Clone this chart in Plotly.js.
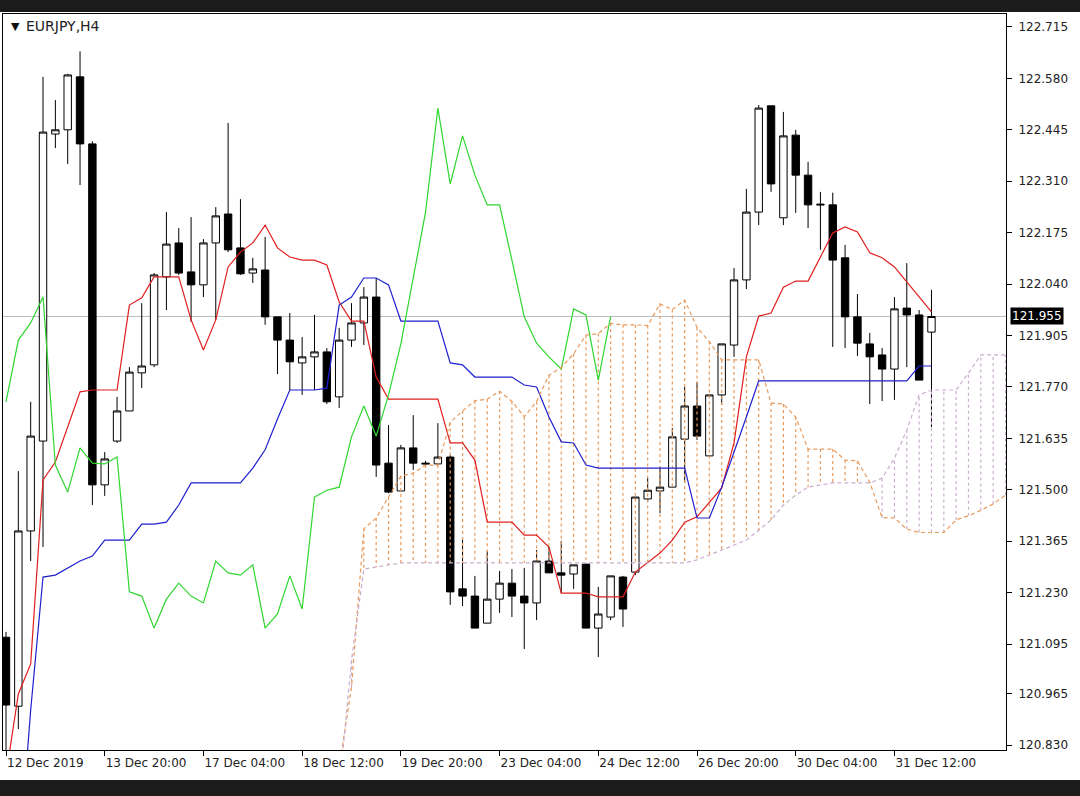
<!DOCTYPE html>
<html><head><meta charset="utf-8">
<script src="https://cdn.plot.ly/plotly-3.0.1.min.js"></script>
<style>
html,body{margin:0;padding:0;background:#1b1b1b;width:1080px;height:796px;overflow:hidden;}
#chart{position:absolute;left:0;top:12px;width:1080px;height:768px;}
</style></head><body><div id="chart"></div>
<script>
// ---- Candles (EURJPY H4), bar index 0 = 12 Dec 2019 12:00 ----
const opens = [121.113,120.932,121.392,121.628,122.434,122.445,122.584,122.408,121.513,121.628,
121.707,121.807,121.828,122.059,122.148,122.072,122.038,122.148,122.224,122.135,
122.069,122.077,121.954,121.893,121.833,121.849,121.862,121.744,121.893,121.938,
122.006,121.570,121.497,121.610,121.570,121.568,121.586,121.240,121.221,121.150,
121.213,121.255,121.221,121.203,121.313,121.282,121.279,121.305,121.137,121.166,
121.271,121.284,121.476,121.497,121.507,121.633,121.720,121.589,121.749,121.880,
122.051,122.229,122.508,122.214,122.431,122.326,122.250,122.248,122.109,121.954,
121.883,121.854,121.817,121.977,121.959,121.914];
const highs = [121.127,121.549,121.731,122.584,122.523,122.592,122.651,122.415,121.599,121.744,
121.822,121.990,122.069,122.229,122.187,122.216,122.158,122.242,122.463,122.263,
122.109,122.164,121.954,121.964,121.901,121.959,121.872,121.925,121.990,122.032,
122.056,121.670,121.618,121.696,121.576,121.675,121.591,121.376,121.274,121.339,
121.287,121.292,121.295,121.342,121.350,121.366,121.303,121.305,121.245,121.274,
121.274,121.481,121.531,121.560,121.662,121.770,121.783,121.749,121.883,122.082,
122.290,122.510,122.508,122.492,122.445,122.361,122.282,122.280,122.143,122.014,
121.912,121.872,122.006,122.095,121.972,122.025];
const lows = [120.800,120.872,121.313,121.350,122.397,122.355,122.300,121.460,121.484,121.623,
121.707,121.767,121.822,121.972,122.064,121.941,122.006,121.946,122.124,122.064,
122.043,121.933,121.804,121.762,121.749,121.762,121.725,121.715,121.875,121.880,
121.534,121.491,121.497,121.552,121.562,121.565,121.198,121.195,121.137,121.150,
121.177,121.166,121.082,121.158,121.282,121.229,121.240,121.137,121.061,121.158,
121.140,121.276,121.468,121.439,121.507,121.518,121.631,121.589,121.723,121.849,
122.027,122.195,122.282,122.195,122.227,122.187,122.130,121.875,121.872,121.851,
121.725,121.733,121.736,121.822,121.788,121.665];
const closes = [120.935,121.392,121.641,122.439,122.445,122.589,122.408,121.513,121.581,121.707,
121.809,121.825,122.064,122.145,122.069,122.038,122.148,122.219,122.130,122.067,
122.080,121.954,121.893,121.836,121.849,121.862,121.731,121.893,121.938,122.006,
121.565,121.494,121.610,121.570,121.568,121.586,121.232,121.221,121.137,121.213,
121.255,121.221,121.203,121.313,121.282,121.276,121.303,121.137,121.174,121.274,
121.187,121.481,121.499,121.507,121.639,121.720,121.641,121.749,121.883,122.051,
122.229,122.502,122.303,122.429,122.326,122.248,122.248,122.103,121.954,121.885,
121.849,121.817,121.975,121.959,121.788,121.955];

// ---- Ichimoku lines ----
const tenkan = [120.751,120.964,121.043,121.526,121.573,121.665,121.757,121.762,121.762,121.762,
121.985,122.004,122.059,122.059,122.059,121.946,121.867,121.946,122.085,122.124,
122.148,122.195,122.135,122.111,122.103,122.103,122.090,121.993,121.943,121.943,
121.796,121.738,121.738,121.738,121.738,121.738,121.623,121.623,121.578,121.415,
121.415,121.415,121.381,121.381,121.350,121.229,121.229,121.229,121.219,121.219,
121.219,121.284,121.308,121.334,121.368,121.415,121.429,121.468,121.505,121.623,
121.849,121.956,121.964,122.032,122.048,122.048,122.111,122.174,122.190,122.177,
122.122,122.109,122.085,122.046,122.006,121.967];
const kijun = [120.450,120.500,120.922,121.271,121.276,121.295,121.313,121.326,121.368,121.368,
121.368,121.410,121.410,121.415,121.460,121.518,121.518,121.518,121.518,121.518,
121.557,121.605,121.686,121.762,121.762,121.762,121.767,121.985,122.006,122.056,
122.056,122.038,121.943,121.943,121.943,121.943,121.833,121.828,121.796,121.796,
121.796,121.796,121.775,121.770,121.691,121.626,121.623,121.565,121.557,121.557,
121.557,121.557,121.557,121.557,121.557,121.557,121.426,121.426,121.507,121.597,
121.691,121.786,121.786,121.786,121.786,121.786,121.786,121.786,121.786,121.786,
121.786,121.786,121.786,121.786,121.825,121.825];
// Chikou span (bars 0..49)
const chikou = [121.731,121.893,121.938,122.006,121.565,121.494,121.610,121.570,121.568,121.586,
121.232,121.221,121.137,121.213,121.255,121.221,121.203,121.313,121.282,121.276,
121.303,121.137,121.174,121.274,121.187,121.481,121.499,121.507,121.639,121.720,
121.641,121.749,121.883,122.051,122.229,122.502,122.303,122.429,122.326,122.248,
122.248,122.103,121.954,121.885,121.849,121.817,121.975,121.959,121.788,121.955];
// Senkou spans, starting at bar 27 and running to bar 81
const spanStart = 27;
const spanA = [120.772,120.982,121.398,121.426,121.481,121.536,121.544,121.565,121.565,121.677,
121.707,121.734,121.738,121.759,121.732,121.692,121.732,121.801,121.821,121.857,
121.906,121.910,121.937,121.933,121.933,121.931,121.988,121.973,121.998,121.926,
121.889,121.841,121.841,121.841,121.841,121.728,121.725,121.691,121.607,121.607,
121.607,121.578,121.576,121.520,121.427,121.426,121.397,121.388,121.388,121.388,
121.421,121.432,121.446,121.463,121.486];
const spanB = [120.712,121.053,121.292,121.297,121.303,121.308,121.308,121.308,121.308,121.308,
121.308,121.308,121.308,121.308,121.308,121.308,121.308,121.308,121.308,121.308,
121.308,121.308,121.308,121.308,121.308,121.308,121.308,121.308,121.308,121.316,
121.329,121.342,121.355,121.368,121.394,121.421,121.460,121.486,121.507,121.513,
121.518,121.518,121.518,121.518,121.531,121.583,121.657,121.749,121.762,121.762,
121.762,121.807,121.854,121.854,121.854];

// ---- Axis labels ----
const xTickBars = [0,8,16,24,32,40,48,56,64,72];
const xTickText = ['12 Dec 2019','13 Dec 20:00','17 Dec 04:00','18 Dec 12:00','19 Dec 20:00',
  '23 Dec 04:00','24 Dec 12:00','26 Dec 20:00','30 Dec 04:00','31 Dec 12:00'];
const yTicks = [122.715,122.580,122.445,122.310,122.175,122.040,121.905,121.770,121.635,121.500,
  121.365,121.230,121.095,120.965,120.830];
const lastPrice = 121.955;
const symbolLabel = 'EURJPY,H4';

// ---- build traces ----
const xs = opens.map((_, i) => i);
const xChikou = chikou.map((_, i) => i);
const xSpan = spanA.map((_, k) => spanStart + k);

const hatchUp = {x: [], y: []}, hatchDn = {x: [], y: []};
spanA.forEach((a, k) => {
  const b = spanB[k], i = spanStart + k;
  const h = a >= b ? hatchUp : hatchDn;
  h.x.push(i, i, null); h.y.push(a, b, null);
});

const SANDY = '#e89a5c', THISTLE = '#c9aecd';
const traces = [
  {type: 'candlestick', x: xs, open: opens, high: highs, low: lows, close: closes,
   increasing: {line: {color: '#000', width: 1}, fillcolor: '#ffffff'},
   decreasing: {line: {color: '#000', width: 1}, fillcolor: '#000000'},
   whiskerwidth: 0, hoverinfo: 'skip'},
  {type: 'scatter', mode: 'lines', x: hatchUp.x, y: hatchUp.y, connectgaps: false,
   line: {color: SANDY, width: 1.2, dash: '3px,3px'}, hoverinfo: 'skip'},
  {type: 'scatter', mode: 'lines', x: hatchDn.x, y: hatchDn.y, connectgaps: false,
   line: {color: THISTLE, width: 1.2, dash: '3px,3px'}, hoverinfo: 'skip'},
  {type: 'scatter', mode: 'lines', x: xs, y: tenkan, line: {color: '#e01e1e', width: 1.2}},
  {type: 'scatter', mode: 'lines', x: xs, y: kijun, line: {color: '#1f1fd0', width: 1.2}},
  {type: 'scatter', mode: 'lines', x: xChikou, y: chikou, line: {color: '#2fd62f', width: 1.2}},
  {type: 'scatter', mode: 'lines', x: xSpan, y: spanA, line: {color: SANDY, width: 1.2, dash: '4px,3px'}},
  {type: 'scatter', mode: 'lines', x: xSpan, y: spanB, line: {color: THISTLE, width: 1.2, dash: '4px,3px'}}
];

const layout = {
  width: 1080, height: 768,
  margin: {l: 3, r: 74, t: 2, b: 30},
  paper_bgcolor: '#ffffff', plot_bgcolor: '#ffffff',
  showlegend: false,
  font: {family: 'DejaVu Sans', size: 12, color: '#222'},
  boxgap: 0.40, boxgroupgap: 0,
  xaxis: {range: [-0.243, 81.04], tickmode: 'array', tickvals: xTickBars, ticktext: xTickText,
    ticks: 'outside', ticklen: 5, tickcolor: '#000', tickwidth: 1,
    ticklabelposition: 'outside right', ticklabelstandoff: 2,
    showgrid: false, zeroline: false, showline: true, mirror: true, linecolor: '#000', linewidth: 1,
    rangeslider: {visible: false}, fixedrange: true},
  yaxis: {side: 'right', range: [120.817, 122.749], tickmode: 'array', tickvals: yTicks,
    ticktext: yTicks.map(v => v.toFixed(3)),
    ticks: 'outside', ticklen: 5, tickcolor: '#000', tickwidth: 1, ticklabelstandoff: 4,
    showgrid: false, zeroline: false, showline: true, mirror: true, linecolor: '#000', linewidth: 1,
    fixedrange: true},
  shapes: [
    {type: 'line', xref: 'paper', x0: 0, x1: 1, yref: 'y', y0: lastPrice, y1: lastPrice,
     line: {color: '#bdbdbd', width: 1}, layer: 'below'}
  ],
  annotations: [
    {xref: 'paper', yref: 'paper', x: 0, y: 1, xshift: 6, yshift: -12, xanchor: 'left', yanchor: 'middle',
     text: '▼', showarrow: false, font: {family: 'DejaVu Sans', size: 11, color: '#111'}},
    {xref: 'paper', yref: 'paper', x: 0, y: 1, xshift: 21, yshift: -12, xanchor: 'left', yanchor: 'middle',
     text: symbolLabel, showarrow: false, font: {family: 'DejaVu Sans', size: 14, color: '#222'}},
    {xref: 'paper', yref: 'y', x: 1, y: lastPrice, xanchor: 'left', yanchor: 'middle', xshift: 4,
     text: lastPrice.toFixed(3), showarrow: false, bgcolor: '#000000', borderpad: 1,
     font: {family: 'DejaVu Sans', size: 12, color: '#ffffff'}}
  ]
};

Plotly.newPlot('chart', traces, layout, {displayModeBar: false, staticPlot: true});
</script>
</body></html>
